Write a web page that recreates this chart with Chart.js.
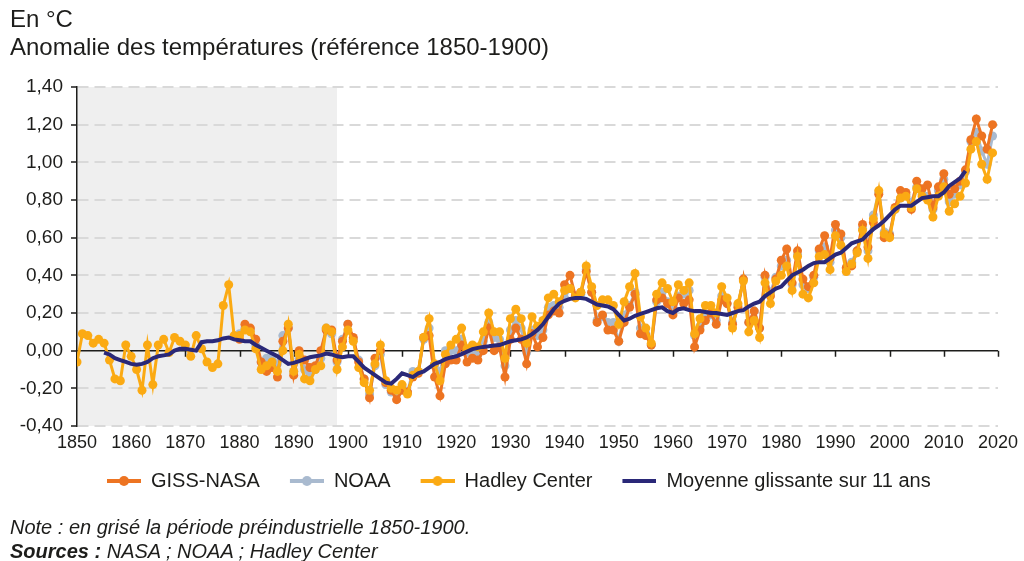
<!DOCTYPE html>
<html>
<head>
<meta charset="utf-8">
<script src="https://cdn.jsdelivr.net/npm/chart.js@4"></script>
<style>
  html, body { margin: 0; padding: 0; background: #fff; }
  body { width: 1024px; height: 561px; position: relative; overflow: hidden;
         font-family: 'Liberation Sans', Arial, sans-serif; color: #1d1d1b; }
  #wrap { position: absolute; left: 0; top: 0; width: 1024px; height: 561px; }
  .txt { position: absolute; left: 10px; line-height: 1; white-space: nowrap; }
  .t { font-size: 24px; }
  .n { font-size: 20px; font-style: italic; }
</style>
</head>
<body>
<div id="wrap"><canvas id="c"></canvas></div>
<div class="txt t" style="top:7px">En °C</div>
<div class="txt t" style="top:35px">Anomalie des températures (référence 1850-1900)</div>
<div class="txt n" style="top:517px">Note : en grisé la période préindustrielle 1850-1900.</div>
<div class="txt n" style="top:541px"><b>Sources :</b> NASA ; NOAA ; Hadley Center</div>
<script>
// années de départ de chaque série
const hadleyStart = 1850;
const gissStart = 1880;
const noaaStart = 1880;
const avgStart = 1855;
const shadeFrom = 1850;
const shadeTo = 1898;

const yTicks = [-0.4, -0.2, 0, 0.2, 0.4, 0.6, 0.8, 1.0, 1.2, 1.4];

const hadley = [
  -0.06, 0.09, 0.08, 0.04, 0.06, 0.04, -0.05, -0.15, -0.16, 0.03,
  -0.03, -0.10, -0.21, 0.03, -0.18, 0.03, 0.06, -0.01, 0.07, 0.05,
  0.03, -0.03, 0.08, 0.01, -0.06, -0.09, -0.07, 0.24, 0.35, 0.08,
  0.08, 0.11, 0.10, 0.01, -0.10, -0.08, -0.06, -0.11, 0.00, 0.14,
  -0.11, -0.02, -0.15, -0.16, -0.10, -0.08, 0.12, 0.10, -0.10, 0.02,
  0.11, 0.05, -0.09, -0.17, -0.21, -0.07, 0.03, -0.16, -0.20, -0.21,
  -0.18, -0.23, -0.13, -0.11, 0.07, 0.17, -0.07, -0.16, -0.02, 0.03,
  0.06, 0.12, 0.01, 0.03, 0.02, 0.10, 0.20, 0.10, 0.10, -0.04,
  0.17, 0.22, 0.17, 0.04, 0.18, 0.13, 0.16, 0.28, 0.30, 0.26,
  0.32, 0.33, 0.28, 0.31, 0.45, 0.34, 0.24, 0.27, 0.27, 0.24,
  0.14, 0.26, 0.34, 0.41, 0.18, 0.12, 0.04, 0.30, 0.36, 0.33,
  0.26, 0.35, 0.32, 0.36, 0.09, 0.17, 0.24, 0.24, 0.20, 0.34,
  0.28, 0.12, 0.25, 0.37, 0.10, 0.16, 0.07, 0.36, 0.25, 0.37,
  0.40, 0.45, 0.32, 0.50, 0.30, 0.28, 0.36, 0.50, 0.51, 0.43,
  0.61, 0.56, 0.42, 0.46, 0.52, 0.64, 0.49, 0.70, 0.85, 0.62,
  0.60, 0.75, 0.81, 0.82, 0.76, 0.86, 0.82, 0.80, 0.71, 0.82,
  0.87, 0.74, 0.78, 0.82, 0.89, 1.07, 1.11, 0.99, 0.91, 1.05
];

const giss = [
  0.06, 0.14, 0.12, 0.06, -0.06, -0.11, -0.09, -0.14, 0.05, 0.12,
  -0.13, 0.00, -0.05, -0.09, -0.08, 0.00, 0.11, 0.11, -0.05, 0.05,
  0.14, 0.07, -0.06, -0.15, -0.25, -0.04, 0.00, -0.17, -0.21, -0.26,
  -0.21, -0.22, -0.14, -0.12, 0.07, 0.08, -0.14, -0.24, -0.07, -0.05,
  -0.05, 0.03, -0.06, -0.04, -0.05, 0.00, 0.12, 0.00, 0.02, -0.14,
  0.06, 0.12, 0.06, -0.07, 0.09, 0.02, 0.07, 0.19, 0.21, 0.20,
  0.35, 0.40, 0.29, 0.31, 0.42, 0.31, 0.15, 0.19, 0.11, 0.11,
  0.05, 0.15, 0.23, 0.30, 0.09, 0.08, 0.03, 0.27, 0.28, 0.25,
  0.19, 0.28, 0.25, 0.27, 0.02, 0.11, 0.16, 0.20, 0.14, 0.27,
  0.25, 0.14, 0.23, 0.38, 0.15, 0.21, 0.12, 0.40, 0.29, 0.38,
  0.48, 0.54, 0.36, 0.53, 0.38, 0.34, 0.40, 0.54, 0.61, 0.49,
  0.67, 0.62, 0.44, 0.45, 0.53, 0.67, 0.55, 0.68, 0.83, 0.60,
  0.61, 0.76, 0.85, 0.84, 0.75, 0.90, 0.86, 0.88, 0.76, 0.87,
  0.94, 0.83, 0.86, 0.90, 0.96, 1.12, 1.23, 1.14, 1.07, 1.20
];

const noaa = [
  0.09, 0.12, 0.11, 0.03, -0.06, -0.04, -0.03, -0.07, 0.08, 0.12,
  -0.11, -0.04, -0.10, -0.12, -0.10, -0.04, 0.12, 0.09, -0.06, 0.06,
  0.14, 0.06, -0.05, -0.15, -0.23, -0.08, -0.02, -0.18, -0.22, -0.23,
  -0.19, -0.22, -0.11, -0.11, 0.06, 0.12, -0.08, -0.11, 0.00, 0.00,
  0.00, 0.06, -0.01, 0.00, -0.02, 0.05, 0.15, 0.07, 0.06, -0.08,
  0.11, 0.16, 0.12, -0.01, 0.11, 0.08, 0.11, 0.23, 0.24, 0.23,
  0.28, 0.33, 0.29, 0.30, 0.43, 0.31, 0.16, 0.18, 0.15, 0.15,
  0.05, 0.19, 0.24, 0.31, 0.12, 0.09, 0.03, 0.26, 0.31, 0.26,
  0.23, 0.29, 0.30, 0.32, 0.08, 0.13, 0.19, 0.19, 0.16, 0.29,
  0.25, 0.15, 0.24, 0.38, 0.15, 0.21, 0.12, 0.39, 0.31, 0.39,
  0.45, 0.48, 0.35, 0.51, 0.35, 0.33, 0.39, 0.53, 0.55, 0.47,
  0.64, 0.60, 0.44, 0.47, 0.53, 0.65, 0.53, 0.72, 0.84, 0.63,
  0.62, 0.75, 0.81, 0.83, 0.79, 0.87, 0.83, 0.82, 0.75, 0.85,
  0.91, 0.79, 0.83, 0.88, 0.95, 1.11, 1.16, 1.06, 0.99, 1.14
];

// moyenne glissante (1855-2014)
const avg = [
  -0.01, -0.02, -0.04, -0.05, -0.06, -0.07, -0.075, -0.07, -0.06, -0.04,
  -0.03, -0.025, -0.02, 0.00, 0.01, 0.01, 0.005, 0.00, 0.045, 0.05,
  0.05, 0.055, 0.065, 0.07, 0.06, 0.055, 0.05, 0.05, 0.03, 0.015,
  0.00, -0.015, -0.03, -0.05, -0.07, -0.065, -0.055, -0.045, -0.035, -0.03,
  -0.025, -0.015, -0.02, -0.03, -0.035, -0.03, -0.03, -0.06, -0.09, -0.11,
  -0.13, -0.15, -0.17, -0.175, -0.15, -0.12, -0.13, -0.14, -0.12, -0.11,
  -0.09, -0.07, -0.06, -0.045, -0.036, -0.03, -0.018, -0.005, 0.008, 0.015,
  0.02, 0.023, 0.027, 0.03, 0.04, 0.05, 0.055, 0.06, 0.07, 0.088,
  0.11, 0.14, 0.18, 0.22, 0.25, 0.265, 0.275, 0.28, 0.28, 0.275,
  0.26, 0.245, 0.24, 0.235, 0.22, 0.19, 0.16, 0.17, 0.185, 0.195,
  0.205, 0.215, 0.225, 0.23, 0.21, 0.20, 0.22, 0.225, 0.215, 0.21,
  0.21, 0.205, 0.20, 0.20, 0.195, 0.19, 0.20, 0.21, 0.215, 0.235,
  0.25, 0.26, 0.29, 0.31, 0.33, 0.34, 0.37, 0.40, 0.415, 0.43,
  0.45, 0.465, 0.47, 0.47, 0.49, 0.51, 0.52, 0.545, 0.57, 0.58,
  0.59, 0.62, 0.645, 0.665, 0.69, 0.72, 0.75, 0.77, 0.77, 0.77,
  0.79, 0.81, 0.815, 0.82, 0.82, 0.84, 0.875, 0.895, 0.915, 0.955
];

const colGiss = '#ED7422';
const colNoaa = '#A9BACF';
const colHadley = '#FBAA13';
const colAvg = '#2A2878';

function toPoints(start, values) {
  return values.map((v, i) => ({ x: start + i, y: v }));
}

// icônes de légende : trait + point, avec une marge à gauche pour espacer les entrées
function icon(color, dot) {
  const c = document.createElement('canvas');
  c.width = 47; c.height = 12;
  const g = c.getContext('2d');
  g.strokeStyle = color; g.lineWidth = 4;
  g.beginPath(); g.moveTo(13, 6); g.lineTo(47, 6); g.stroke();
  if (dot) { g.fillStyle = color; g.beginPath(); g.arc(30, 6, 5, 0, Math.PI * 2); g.fill(); }
  return c;
}
const icons = [icon(colGiss, true), icon(colNoaa, true), icon(colHadley, true), icon(colAvg, false)];

const bgPlugin = {
  id: 'bg',
  beforeDraw(chart) {
    const { ctx, chartArea: a, scales: { x } } = chart;
    ctx.save();
    ctx.fillStyle = '#efefef';
    const x1 = x.getPixelForValue(shadeFrom), x2 = x.getPixelForValue(shadeTo);
    ctx.fillRect(x1, a.top, x2 - x1, a.bottom - a.top);
    ctx.restore();
  },
  beforeDatasetsDraw(chart) {
    const { ctx, chartArea: a, scales: { x, y } } = chart;
    const y0 = y.getPixelForValue(0);
    ctx.save();
    ctx.strokeStyle = '#1d1d1b';
    ctx.lineWidth = 1.5;
    ctx.beginPath();
    ctx.moveTo(a.left, y0); ctx.lineTo(a.right, y0);
    for (let yr = 1860; yr <= 2020; yr += 10) {
      const px = Math.round(x.getPixelForValue(yr)) + 0.5;
      ctx.moveTo(px, y0); ctx.lineTo(px, y0 + 6);
    }
    ctx.stroke();
    ctx.restore();
  }
};

Chart.defaults.font.family = "'Liberation Sans', Arial, sans-serif";
Chart.defaults.color = '#1d1d1b';

new Chart(document.getElementById('c'), {
  type: 'line',
  data: {
    datasets: [
      {
        label: 'GISS-NASA', data: toPoints(gissStart, giss), order: 2,
        borderColor: colGiss, backgroundColor: colGiss, borderWidth: 3,
        pointRadius: 4.5, pointBorderWidth: 0
      },
      {
        label: 'NOAA', data: toPoints(noaaStart, noaa), order: 3,
        borderColor: colNoaa, backgroundColor: colNoaa, borderWidth: 3,
        pointRadius: 4.5, pointBorderWidth: 0
      },
      {
        label: 'Hadley Center', data: toPoints(hadleyStart, hadley), order: 1,
        borderColor: colHadley, backgroundColor: colHadley, borderWidth: 3,
        pointRadius: 4.5, pointBorderWidth: 0
      },
      {
        label: 'Moyenne glissante sur 11 ans', data: toPoints(avgStart, avg), order: 0,
        borderColor: colAvg, backgroundColor: colAvg, borderWidth: 4,
        pointRadius: 0
      }
    ]
  },
  options: {
    responsive: true,
    maintainAspectRatio: false,
    animation: false,
    layout: { padding: { top: 87, left: 0, right: 24, bottom: 60 } },
    plugins: {
      tooltip: { enabled: false },
      legend: {
        position: 'bottom',
        fullSize: false,
        align: 'start',
        labels: {
          usePointStyle: true,
          pointStyleWidth: 47,
          padding: 17,
          font: { size: 20 },
          sort: (a, b) => a.datasetIndex - b.datasetIndex,
          generateLabels(chart) {
            const items = Chart.defaults.plugins.legend.labels.generateLabels(chart);
            items.forEach(it => { it.pointStyle = icons[it.datasetIndex]; });
            return items;
          }
        }
      }
    },
    scales: {
      x: {
        type: 'linear',
        min: 1850, max: 2020,
        afterFit(s) { s.height = 28; },
        grid: { display: false, drawTicks: false },
        border: { display: false },
        ticks: {
          stepSize: 10, autoSkip: false, maxRotation: 0, padding: 6,
          font: { size: 18 },
          callback: v => String(v)
        }
      },
      y: {
        min: -0.4, max: 1.4,
        afterFit(s) { s.width = 77; },
        afterBuildTicks(s) { s.ticks = yTicks.map(v => ({ value: v })); },
        grid: {
          color: c => (c.tick && Math.abs(c.tick.value) < 1e-9) ? 'rgba(0,0,0,0)' : '#d9d9d9',
          lineWidth: 2,
          tickColor: '#1d1d1b',
          tickLength: 6,
          tickWidth: 1.5
        },
        border: { display: true, color: '#1d1d1b', width: 1.5, dash: [11, 6] },
        ticks: {
          padding: 8,
          font: { size: 19 },
          callback: v => v.toFixed(2).replace('.', ',')
        }
      }
    }
  },
  plugins: [bgPlugin]
});
</script>
</body>
</html>
